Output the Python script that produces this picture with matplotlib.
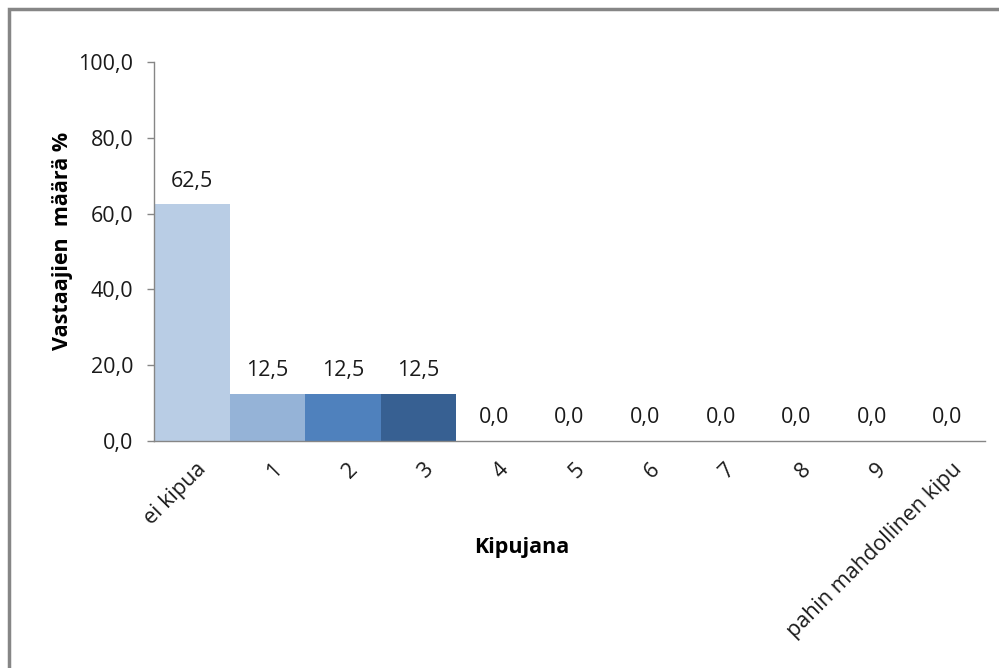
import matplotlib.pyplot as plt
import matplotlib.transforms as mtransforms
from matplotlib.patches import Rectangle

plt.rcParams['font.family'] = ['Open Sans', 'DejaVu Sans']

categories = ["ei kipua", "1", "2", "3", "4", "5", "6", "7", "8", "9", "pahin mahdollinen kipu"]
values = [62.5, 12.5, 12.5, 12.5, 0.0, 0.0, 0.0, 0.0, 0.0, 0.0, 0.0]
colors = ["#B9CDE5", "#95B3D7", "#4F81BD", "#376092"] + ["#4F81BD"] * 7
y_ticks = [0, 20, 40, 60, 80, 100]

def fi(v):
    return ("%.1f" % v).replace(".", ",")

FS = 15.5
fig = plt.figure(figsize=(9.99, 6.68), dpi=100)
# outer chart frame (right and bottom edges fall outside the image)
fig.patches.append(Rectangle((9 / 999, -0.1), 1.2, 1 - 9 / 668 + 0.1,
                             transform=fig.transFigure, fill=False,
                             edgecolor="#868686", linewidth=2.5))

ax = fig.add_axes([154 / 999, 1 - 441 / 668, (985 - 154) / 999, (441 - 62) / 668])
x = range(len(categories))
ax.bar(x, values, width=1.0, color=colors, linewidth=0)
ax.set_xlim(-0.5, len(categories) - 0.5)
ax.set_ylim(0, 100)

for xi, v in zip(x, values):
    ax.annotate(fi(v), (xi, v), xytext=(0, 9), textcoords="offset points",
                ha="center", va="bottom", fontsize=FS, color="#1a1a1a")

ax.set_yticks(y_ticks)
ax.set_yticklabels([fi(t) for t in y_ticks], fontsize=FS, color="#1a1a1a")
ax.tick_params(axis="y", length=5, width=1, color="#868686", pad=10)
ax.set_xticks(list(x))
ax.set_xticklabels(categories, rotation=45, ha="right", va="top",
                   rotation_mode="anchor", fontsize=FS, color="#1a1a1a")
ax.tick_params(axis="x", length=0, pad=13)
offset = mtransforms.ScaledTranslation(4 / 100, 0, fig.dpi_scale_trans)
for lab in ax.get_xticklabels():
    lab.set_transform(lab.get_transform() + offset)

for s in ["top", "right"]:
    ax.spines[s].set_visible(False)
for s in ["left", "bottom"]:
    ax.spines[s].set_color("#868686")
    ax.spines[s].set_linewidth(1)

ax.set_ylabel("Vastaajien  määrä %", fontsize=FS, fontweight="bold")
ax.yaxis.set_label_coords(-0.097, 0.528)
fig.text(522 / 999, 1 - 548 / 668, "Kipujana", fontsize=FS, fontweight="bold",
         ha="center", va="center")

fig.savefig("out.png", dpi=100)
